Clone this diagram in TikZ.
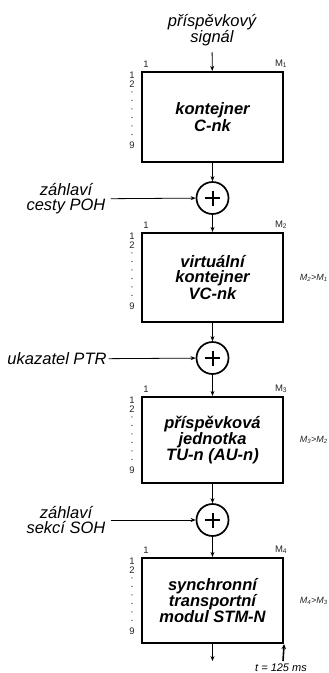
\documentclass[tikz,border=0pt]{standalone}
\usepackage{fontspec}
\setmainfont{Liberation Sans}
\usetikzlibrary{arrows.meta}
\newcommand\rowlabels[1]{%
  \node[tiny] at ([shift={(-9,4)}]#1.north west) {1};
  \node[tiny] at ([shift={(-9,13)}]#1.north west) {2};
  \foreach \d in {21,29.5,38,46.5,55,63.5}{\fill[black!75] ([shift={(-9,\d)}]#1.north west) circle (0.7pt);}
  \node[tiny] at ([shift={(-9,74)}]#1.north west) {9};
  \node[tiny] at ([shift={(5,-7)}]#1.north west) {1};}
\begin{document}
\begin{tikzpicture}[x=1pt,y=-1pt,
  blk/.style={draw,line width=2.2pt,minimum width=141pt,inner sep=0pt,
    font=\fontsize{16.5}{15}\selectfont\bfseries\itshape,align=center},
  sum/.style={circle,draw,line width=1.7pt,minimum size=32pt,inner sep=0pt,
    path picture={\draw[line width=2pt]
      ([xshift=-7.5pt]path picture bounding box.center) -- ([xshift=7.5pt]path picture bounding box.center)
      ([yshift=-7.5pt]path picture bounding box.center) -- ([yshift=7.5pt]path picture bounding box.center);}},
  lbl/.style={font=\fontsize{16.5}{15}\selectfont\itshape,align=center,inner sep=2pt},
  tiny/.style={font=\fontsize{9.5}{9.5}\selectfont,inner sep=0pt,text=black!85},
  rlbl/.style={font=\fontsize{9}{9}\selectfont\itshape,inner sep=0pt,anchor=east,text=black!85},
  arr/.style={-{Stealth[length=5pt,width=4pt]},line width=0.8pt}]
\useasboundingbox (0,0) rectangle (329,673);

% boxes
\node[blk,minimum height=90pt] (b1) at (212.5,117) {kontejner\\C-nk};
\node[blk,minimum height=89pt] (b2) at (212.5,277.5) {virtuální\\kontejner\\VC-nk};
\node[blk,minimum height=86pt] (b3) at (212.5,440) {příspěvková\\jednotka\\TU-n (AU-n)};
\node[blk,minimum height=85pt] (b4) at (212.5,600.5) {synchronní\\transportní\\modul STM-N};

% summing junctions
\node[sum] (c1) at (212.5,198) {};
\node[sum] (c2) at (212.5,358) {};
\node[sum] (c3) at (212.5,520) {};

% input labels
\node[lbl] (sig) at (212,30) {příspěvkový\\signál};
\node[lbl] (poh) at (66,199) {záhlaví\\cesty POH};
\node[lbl] (ptr) at (57,359) {ukazatel PTR};
\node[lbl] (soh) at (66,520) {záhlaví\\sekcí SOH};

% connectors
\draw[arr,shorten <=4pt] (sig) -- (b1);
\draw[arr] (b1) -- (c1);
\draw[arr] (c1) -- (b2);
\draw[arr] (b2) -- (c2);
\draw[arr] (c2) -- (b3);
\draw[arr] (b3) -- (c3);
\draw[arr] (c3) -- (b4);
\draw[arr,shorten <=3pt] (poh) -- (c1);
\draw[arr] (ptr) -- (c2);
\draw[arr,shorten <=3pt] (soh) -- (c3);
\coordinate (out) at (212.5,661);
\draw[arr] (b4) -- (out);
\coordinate (tb) at (283,661);
\draw[-{Stealth[length=5pt,width=4.5pt]},line width=1.6pt] (tb) -- (b4.south east);
\node[font=\fontsize{11}{11}\selectfont\itshape,inner sep=0pt] (tl) at (281,668) {t = 125 ms};

% row / column labels
\rowlabels{b1}
\rowlabels{b2}
\rowlabels{b3}
\rowlabels{b4}
\node[tiny] (m1) at ([shift={(-3,-7)}]b1.north east) {M\textsubscript{1}};
\node[tiny] (m2) at ([shift={(-3,-7)}]b2.north east) {M\textsubscript{2}};
\node[tiny] (m3) at ([shift={(-3,-7)}]b3.north east) {M\textsubscript{3}};
\node[tiny] (m4) at ([shift={(-3,-7)}]b4.north east) {M\textsubscript{4}};
\node[rlbl] (r2) at (328,277.5) {M\textsubscript{2}>M\textsubscript{1}};
\node[rlbl] (r3) at (328,440) {M\textsubscript{3}>M\textsubscript{2}};
\node[rlbl] (r4) at (328,600.5) {M\textsubscript{4}>M\textsubscript{3}};
\end{tikzpicture}
\end{document}
